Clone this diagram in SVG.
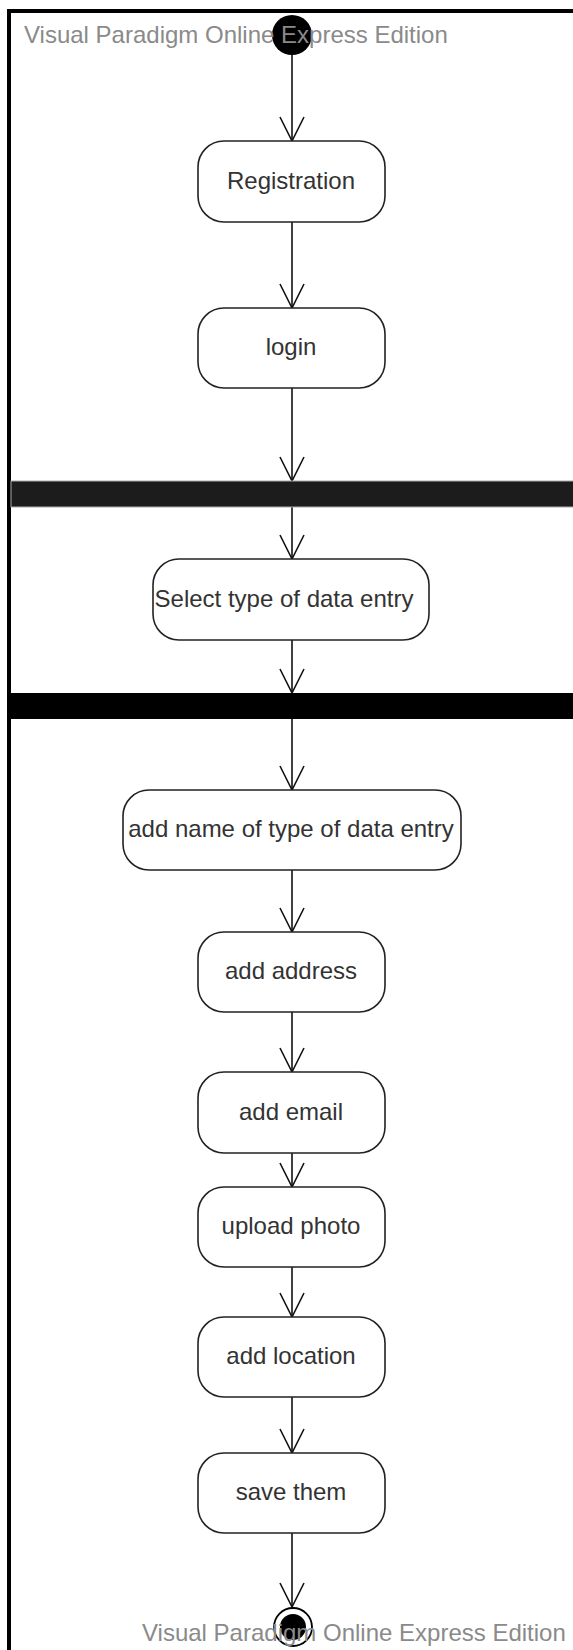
<svg xmlns="http://www.w3.org/2000/svg" width="573" height="1650" viewBox="0 0 573 1650">
<style>
.act{fill:#fff;stroke:#222;stroke-width:1.6}
.lbl{font-family:"Liberation Sans",Arial,sans-serif;font-size:24px;fill:#333;text-anchor:middle}
.wm{font-family:"Liberation Sans",Arial,sans-serif;font-size:24px;fill:#8a8a8a}
.edge{stroke:#111;stroke-width:1.6;fill:none}
</style>
<defs>
<marker id="open" markerUnits="userSpaceOnUse" markerWidth="30" markerHeight="30" refX="0" refY="0" orient="auto" overflow="visible">
<path d="M-24,-12 L0,0 L-24,12" fill="none" stroke="#111" stroke-width="1.6"/>
</marker>
</defs>
<rect width="573" height="1650" fill="#fff"/>
<path d="M9,1650 V11 H573" fill="none" stroke="#000" stroke-width="4"/>
<g id="connectors">
<line class="edge" x1="292" y1="54" x2="292" y2="141" marker-end="url(#open)"/>
<line class="edge" x1="292" y1="222" x2="292" y2="308" marker-end="url(#open)"/>
<line class="edge" x1="292" y1="388" x2="292" y2="481" marker-end="url(#open)"/>
<line class="edge" x1="292" y1="507" x2="292" y2="559" marker-end="url(#open)"/>
<line class="edge" x1="292" y1="640" x2="292" y2="693" marker-end="url(#open)"/>
<line class="edge" x1="292" y1="719" x2="292" y2="790" marker-end="url(#open)"/>
<line class="edge" x1="292" y1="870" x2="292" y2="932" marker-end="url(#open)"/>
<line class="edge" x1="292" y1="1012" x2="292" y2="1072" marker-end="url(#open)"/>
<line class="edge" x1="292" y1="1153" x2="292" y2="1187" marker-end="url(#open)"/>
<line class="edge" x1="292" y1="1267" x2="292" y2="1317" marker-end="url(#open)"/>
<line class="edge" x1="292" y1="1397" x2="292" y2="1453" marker-end="url(#open)"/>
<line class="edge" x1="292" y1="1533" x2="292" y2="1607" marker-end="url(#open)"/>
</g>
<g id="start"><circle cx="292" cy="35" r="20" fill="#000"/></g>
<text class="wm" x="24" y="43">Visual Paradigm Online Express Edition</text>
<g id="registration"><rect class="act" x="198" y="141" width="187" height="81" rx="26"/><text class="lbl" x="291" y="188.5">Registration</text></g>
<g id="login"><rect class="act" x="198" y="308" width="187" height="80" rx="26"/><text class="lbl" x="291" y="355">login</text></g>
<g id="fork1"><rect x="11" y="481" width="563" height="26" fill="#1c1c1c" stroke="#aaa" stroke-width="1"/></g>
<g id="select"><rect class="act" x="153" y="559" width="276" height="81" rx="26"/><text class="lbl" x="284" y="606.5">Select type of data entry</text></g>
<g id="fork2"><rect x="11" y="693" width="563" height="26" fill="#000"/></g>
<g id="addname"><rect class="act" x="123" y="790" width="338" height="80" rx="26"/><text class="lbl" x="291" y="837">add name of type of data entry</text></g>
<g id="address"><rect class="act" x="198" y="932" width="187" height="80" rx="26"/><text class="lbl" x="291" y="979">add address</text></g>
<g id="email"><rect class="act" x="198" y="1072" width="187" height="81" rx="26"/><text class="lbl" x="291" y="1119.5">add email</text></g>
<g id="photo"><rect class="act" x="198" y="1187" width="187" height="80" rx="26"/><text class="lbl" x="291" y="1234">upload photo</text></g>
<g id="location"><rect class="act" x="198" y="1317" width="187" height="80" rx="26"/><text class="lbl" x="291" y="1364">add location</text></g>
<g id="save"><rect class="act" x="198" y="1453" width="187" height="80" rx="26"/><text class="lbl" x="291" y="1500">save them</text></g>
<g id="end"><circle cx="293" cy="1627" r="19" fill="#fff" stroke="#000" stroke-width="1.8"/><circle cx="293" cy="1627" r="13" fill="#000"/></g>
<text class="wm" x="142" y="1641">Visual Paradigm Online Express Edition</text>
</svg>
